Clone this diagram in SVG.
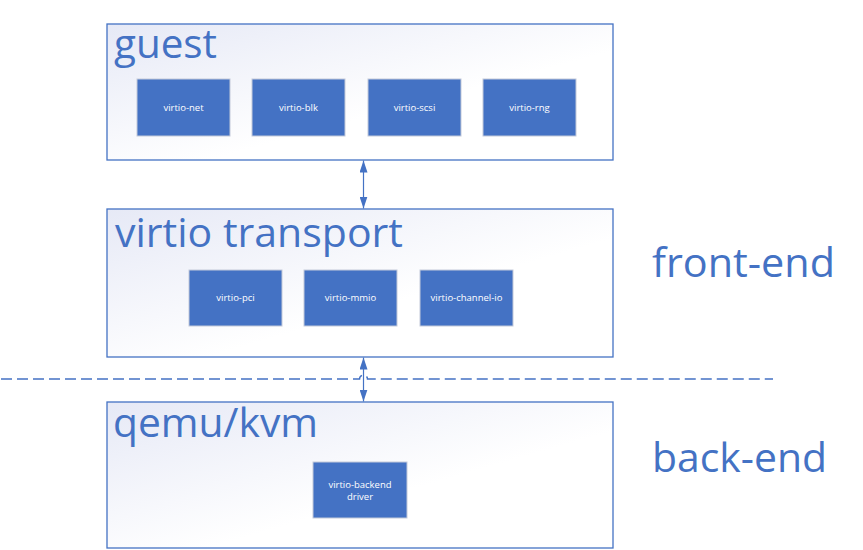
<svg xmlns="http://www.w3.org/2000/svg" width="863" height="550" viewBox="0 0 863 550">
<style>
.outer{stroke:#4472C4;stroke-width:1.3;fill:url(#g)}
.inner{fill:#4472C4;stroke:#C3CAD9;stroke-width:1}
.title{font-family:"Open Sans","Noto Sans",sans-serif;font-size:40px;fill:#4472C4}
.lbl{font-family:"Open Sans","Noto Sans",sans-serif;font-size:9.5px;fill:#FFFFFF;text-anchor:middle}
.conn{stroke:#4472C4;stroke-width:1.2;fill:none}
</style>
<defs>
<linearGradient id="g" x1="0" y1="0" x2="1" y2="1">
<stop offset="0" stop-color="#E6E9F6"/>
<stop offset="0.6" stop-color="#FFFFFF"/>
</linearGradient>
<marker id="ah" markerUnits="userSpaceOnUse" markerWidth="12" markerHeight="8" refX="12" refY="4" orient="auto-start-reverse">
<path d="M0,0 L12,4 L0,8 z" fill="#4472C4"/>
</marker>
</defs>
<rect width="863" height="550" fill="#FFFFFF"/>
<g id="guest">
<rect class="outer" x="107" y="24" width="506" height="136"/>
<text class="title" x="114" y="58" textLength="103" lengthAdjust="spacingAndGlyphs">guest</text>
<g id="virtio-net"><rect class="inner" x="137" y="79" width="93" height="57"/><text class="lbl" x="183.5" y="110.5">virtio-net</text></g>
<g id="virtio-blk"><rect class="inner" x="252" y="79" width="93" height="57"/><text class="lbl" x="298.5" y="110.5">virtio-blk</text></g>
<g id="virtio-scsi"><rect class="inner" x="368" y="79" width="93" height="57"/><text class="lbl" x="414.5" y="110.5">virtio-scsi</text></g>
<g id="virtio-rng"><rect class="inner" x="483" y="79" width="93" height="57"/><text class="lbl" x="529.5" y="110.5">virtio-rng</text></g>
</g>
<g id="transport">
<rect class="outer" x="107" y="209" width="506" height="148"/>
<text class="title" x="115" y="247" textLength="288" lengthAdjust="spacingAndGlyphs">virtio transport</text>
<g id="virtio-pci"><rect class="inner" x="189" y="270" width="93" height="56"/><text class="lbl" x="235.5" y="301">virtio-pci</text></g>
<g id="virtio-mmio"><rect class="inner" x="304" y="270" width="93" height="56"/><text class="lbl" x="350.5" y="301">virtio-mmio</text></g>
<g id="virtio-channel-io"><rect class="inner" x="420" y="270" width="93" height="56"/><text class="lbl" x="466.5" y="301">virtio-channel-io</text></g>
</g>
<g id="qemu">
<rect class="outer" x="107" y="402" width="506" height="146"/>
<text class="title" x="113" y="437" textLength="205" lengthAdjust="spacingAndGlyphs">qemu/kvm</text>
<g id="virtio-backend"><rect class="inner" x="313" y="462" width="94" height="56"/>
<text class="lbl" x="360" y="488">virtio-backend</text><text class="lbl" x="360" y="500">driver</text></g>
</g>
<g id="labels">
<text class="title" x="652" y="277" textLength="183" lengthAdjust="spacingAndGlyphs">front-end</text>
<text class="title" x="652" y="472" textLength="175" lengthAdjust="spacingAndGlyphs">back-end</text>
</g>
<g id="connectors">
<line class="conn" x1="363.5" y1="160.5" x2="363.5" y2="208.5" marker-start="url(#ah)" marker-end="url(#ah)"/>
<line class="conn" x1="363.5" y1="357.5" x2="363.5" y2="401.5" marker-start="url(#ah)" marker-end="url(#ah)"/>
<path d="M1,379 H359.5 A4,4 0 0 1 367.5,379 H773" fill="none" stroke="#4472C4" stroke-width="1.5" stroke-dasharray="11 5"/>
</g>
</svg>
